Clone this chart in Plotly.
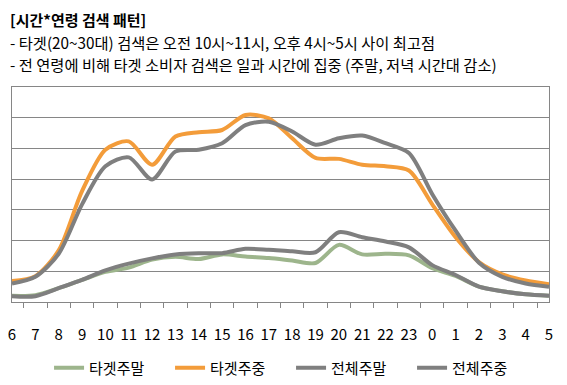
import plotly.graph_objects as go

hours = ["6","7","8","9","10","11","12","13","14","15","16","17","18","19","20","21","22","23","0","1","2","3","4","5"]

target_weekend = [0.20,0.22,0.45,0.72,0.98,1.12,1.38,1.47,1.40,1.55,1.48,1.43,1.35,1.27,1.86,1.55,1.57,1.52,1.10,0.85,0.50,0.35,0.25,0.20]
target_weekday = [0.68,0.84,1.68,3.61,4.96,5.23,4.47,5.39,5.53,5.60,6.09,5.98,5.33,4.69,4.66,4.47,4.42,4.28,3.18,2.11,1.30,0.90,0.70,0.58]
all_weekend = [0.19,0.19,0.45,0.72,1.03,1.25,1.42,1.55,1.59,1.59,1.73,1.70,1.65,1.62,2.27,2.11,1.97,1.78,1.20,0.88,0.50,0.35,0.25,0.20]
all_weekday = [0.60,0.82,1.57,3.18,4.42,4.71,3.99,4.90,4.96,5.17,5.76,5.87,5.55,5.12,5.33,5.42,5.17,4.85,3.51,2.32,1.28,0.82,0.60,0.50]

series = [
    ("타겟주말", target_weekend, "#9DB58C"),
    ("타겟주중", target_weekday, "#F39C3A"),
    ("전체주말", all_weekend, "#7F7F7F"),
    ("전체주중", all_weekday, "#7F7F7F"),
]

title_text = "<b>[시간*연령 검색 패턴]</b>"
bullet_lines = [
    "- 타겟(20~30대) 검색은 오전 10시~11시, 오후 4시~5시 사이 최고점",
    "- 전 연령에 비해 타겟 소비자 검색은 일과 시간에 집중 (주말, 저녁 시간대 감소)",
]
bullet_y_px = [41.5, 64]

fig = go.Figure()
for name, vals, col in series:
    fig.add_trace(go.Scatter(x=hours, y=vals, name=name, mode="lines",
                             line=dict(color=col, width=4, shape="spline", smoothing=0.8)))

font_family = "Noto Sans CJK KR, Malgun Gothic, sans-serif"
annotations = [
    dict(text=title_text, xref="paper", yref="paper",
         x=-0.0075, y=(302 - 19.3) / 215, xanchor="left", yanchor="middle",
         showarrow=False, font=dict(size=15, family=font_family)),
]
for txt, ypx in zip(bullet_lines, bullet_y_px):
    annotations.append(dict(text=txt, xref="paper", yref="paper", align="left",
                            x=-0.0075, y=(302 - ypx) / 215, xanchor="left", yanchor="middle",
                            showarrow=False, font=dict(size=15.3, family=font_family)))

# page has an 8px body margin: figure is 559x377 placed at (8,8)
fig.update_layout(
    width=559, height=377,
    margin=dict(l=4, r=18, t=79, b=83, autoexpand=False),
    paper_bgcolor="white", plot_bgcolor="white",
    font=dict(family=font_family, size=13, color="black"),
    showlegend=True,
    legend=dict(orientation="h", x=0.069, xanchor="left", y=-0.307, yanchor="middle",
                font=dict(size=15), entrywidth=76, entrywidthmode="pixels",
                traceorder="normal", bgcolor="rgba(0,0,0,0)"),
    xaxis=dict(type="category", showline=True, linecolor="#868686", linewidth=1, mirror=True,
               ticks="outside", tickson="boundaries", ticklen=5, tickcolor="#868686",
               showgrid=False, tickfont=dict(size=15, family=font_family), tickangle=0,
               ticklabelstandoff=19, automargin=False, fixedrange=True),
    yaxis=dict(range=[0, 7], dtick=1, showticklabels=False, showgrid=True,
               gridcolor="#868686", gridwidth=1, showline=True, linecolor="#868686",
               linewidth=1, mirror=True, zeroline=False, ticks="", automargin=False,
               fixedrange=True),
    annotations=annotations,
)

fig.write_html("out.html")
